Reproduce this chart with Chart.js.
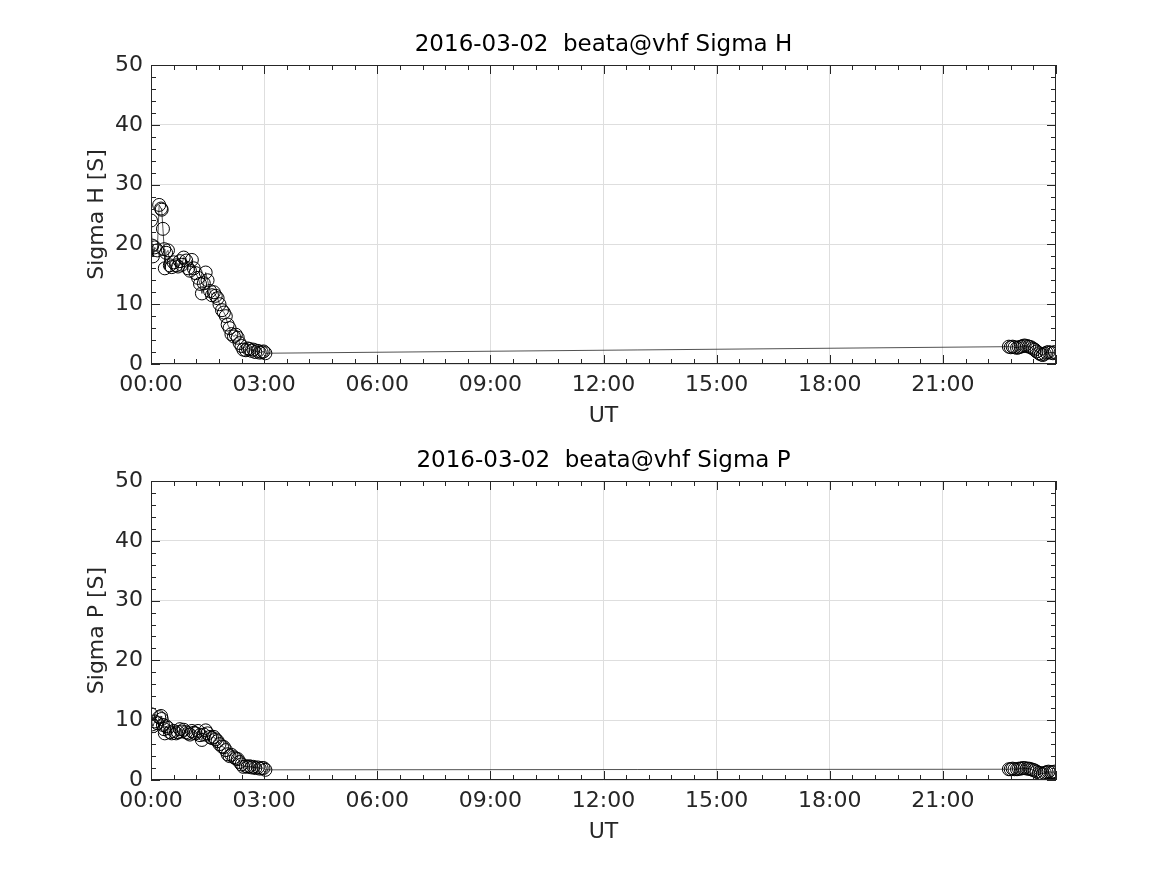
<!DOCTYPE html>
<html>
<head>
<meta charset="utf-8">
<script src="https://cdn.jsdelivr.net/npm/chart.js@4.4.1/dist/chart.umd.min.js"></script>
<style>
  html, body { margin: 0; padding: 0; background: #fff; }
  #wrap { position: relative; width: 1167px; height: 875px; }
  .box { position: absolute; left: 0; width: 1167px; height: 437px; }
</style>
</head>
<body>
<div id="wrap">
  <div class="box" style="top:0"><canvas id="sigH"></canvas></div>
  <div class="box" style="top:416px"><canvas id="sigP"></canvas></div>
</div>
<script>
// minutes after 00:00 UT
const minutes = [
  0, 2, 3, 6, 10, 13, 16, 17, 19, 21, 22, 24, 27, 30, 33, 36, 40, 43, 46, 49,
  52, 56, 59, 62, 65, 68, 71, 75, 78, 81, 84, 87, 90, 94, 97, 100, 103, 106, 109, 113,
  116, 119, 122, 125, 128, 132, 135, 138, 141, 144, 147, 151, 154, 157, 160, 163, 166, 170, 173, 176,
  179, 182,
  1365, 1368, 1371, 1374, 1378, 1381, 1384, 1387, 1390, 1394, 1397, 1400, 1403, 1406, 1409, 1413,
  1416, 1419, 1422, 1425, 1428, 1432, 1435, 1438
];

const sigmaH = [
  24, 19.8, 18, 19.5, 19, 26.6, 26, 25.8, 22.6, 19.2, 16, 18.6, 19, 16.5, 16.2, 17, 16.5, 16.3, 17.2, 16.6,
  17.8, 17.3, 16, 15.6, 17.4, 16, 15.2, 14.4, 13.4, 11.8, 13.5, 15.3, 14, 12.2, 11.5, 12, 11.4, 11, 10, 9,
  8.6, 8, 6.6, 6, 5, 4.6, 4.9, 4.4, 3.5, 3, 2.4, 2.3, 2.6, 2.5, 2.2, 2.4, 2.0, 2.2, 1.9, 2.0,
  2.1, 1.8,
  2.9, 2.8, 2.9, 2.8, 2.7, 2.8, 2.9, 3.0, 3.1, 3.0, 2.9, 2.8, 2.6, 2.4, 2.1, 1.8,
  1.6, 1.5, 1.7, 1.9, 2.0, 1.9, 1.8, 2.0
];

const sigmaP = [
  11, 9.3, 9.0, 9.8, 9.5, 10.5, 10.7, 10.2, 9.2, 8.5, 7.8, 9, 8.7, 8, 7.8, 8.2, 7.8, 8.0, 8.5, 8.1,
  8.4, 8.0, 7.8, 7.6, 8.2, 7.9, 7.8, 8.2, 7.5, 6.7, 7.6, 8.3, 7.8, 7.2, 7.0, 7.2, 6.8, 6.5, 6.0, 5.6,
  5.5, 5.0, 4.3, 4.0, 4.2, 3.8, 3.6, 3.5, 3.0, 2.6, 2.2, 2.3, 2.2, 2.3, 2.1, 2.2, 2.0, 2.1, 1.9, 2.0,
  2.0, 1.7,
  1.8, 1.8, 1.9, 1.8, 1.8, 1.9, 1.9, 2.0, 2.0, 1.9, 1.9, 1.8, 1.7, 1.6, 1.4, 1.2,
  1.1, 1.0, 1.2, 1.3, 1.4, 1.3, 1.3, 1.4
];

const xTicks = [0, 180, 360, 540, 720, 900, 1080, 1260];
const xTickLabels = ["00:00", "03:00", "06:00", "09:00", "12:00", "15:00", "18:00", "21:00"];
const yTicks = [0, 10, 20, 30, 40, 50];

const FONT = "'DejaVu Sans', sans-serif";
const INK = "#262626";

// box with inward major/minor ticks, matlab style, and a title centred on the axes
const frame = {
  id: "frame",
  afterDraw(chart, args, opts) {
    const { ctx, chartArea: a, scales } = chart;
    const x = scales.x, y = scales.y;
    ctx.save();
    ctx.strokeStyle = INK;
    ctx.lineWidth = 1;
    ctx.strokeRect(a.left + 0.5, a.top + 0.5, a.right - a.left - 1, a.bottom - a.top - 1);
    ctx.beginPath();
    for (let m = 0; m <= 1440; m += 36) {
      const px = Math.round(x.getPixelForValue(m)) + 0.5;
      const len = m % 180 === 0 ? 9 : 5;
      ctx.moveTo(px, a.bottom); ctx.lineTo(px, a.bottom - len);
      ctx.moveTo(px, a.top); ctx.lineTo(px, a.top + len);
    }
    for (let v = 0; v <= 50; v += 2) {
      const py = Math.round(y.getPixelForValue(v)) + 0.5;
      const len = v % 10 === 0 ? 9 : 5;
      ctx.moveTo(a.left, py); ctx.lineTo(a.left + len, py);
      ctx.moveTo(a.right, py); ctx.lineTo(a.right - len, py);
    }
    ctx.stroke();

    ctx.fillStyle = "#000";
    ctx.font = "23px " + FONT;
    ctx.textAlign = "center";
    ctx.textBaseline = "middle";
    ctx.fillText(opts.text, (a.left + a.right) / 2, a.top - 20);
    ctx.restore();
  }
};

const makeChart = (id, values, title, ylabel) => {
  new Chart(document.getElementById(id), {
    type: "line",
    data: {
      datasets: [{
        data: minutes.map((m, i) => ({ x: m, y: values[i] })),
        borderColor: INK,
        borderWidth: 0.8,
        pointStyle: "circle",
        pointRadius: 6.5,
        pointBorderWidth: 1,
        pointBorderColor: "#000",
        pointBackgroundColor: "rgba(0,0,0,0)",
        tension: 0
      }]
    },
    options: {
      responsive: false,
      animation: false,
      devicePixelRatio: 1,
      layout: { padding: { left: 0, right: 111, top: 65, bottom: 0 } },
      plugins: {
        legend: { display: false },
        tooltip: { enabled: false },
        title: { display: false },
        frame: { text: title }
      },
      scales: {
        x: {
          type: "linear",
          min: 0,
          max: 1440,
          afterBuildTicks: (s) => { s.ticks = xTicks.map((v) => ({ value: v })); },
          afterFit: (s) => { s.height = 73; },
          ticks: {
            color: INK,
            font: { family: FONT, size: 22 },
            padding: 8,
            maxRotation: 0,
            callback: (v) => xTickLabels[xTicks.indexOf(v)]
          },
          grid: { color: "#dedede", drawTicks: false },
          border: { display: false },
          title: {
            display: true,
            text: "UT",
            color: INK,
            font: { family: FONT, size: 22 },
            padding: { top: 0, bottom: 8 }
          }
        },
        y: {
          min: 0,
          max: 50,
          afterBuildTicks: (s) => { s.ticks = yTicks.map((v) => ({ value: v })); },
          afterFit: (s) => { s.width = 151; },
          ticks: {
            color: INK,
            font: { family: FONT, size: 22 },
            padding: 8
          },
          grid: { color: "#dedede", drawTicks: false },
          border: { display: false },
          title: {
            display: true,
            text: ylabel,
            color: INK,
            font: { family: FONT, size: 22 },
            padding: { top: 84, bottom: 0 }
          }
        }
      }
    },
    plugins: [frame]
  });
};

document.getElementById("sigH").width = 1167;
document.getElementById("sigH").height = 437;
document.getElementById("sigP").width = 1167;
document.getElementById("sigP").height = 437;

makeChart("sigH", sigmaH, "2016-03-02  beata@vhf Sigma H", "Sigma H [S]");
makeChart("sigP", sigmaP, "2016-03-02  beata@vhf Sigma P", "Sigma P [S]");
</script>
</body>
</html>
